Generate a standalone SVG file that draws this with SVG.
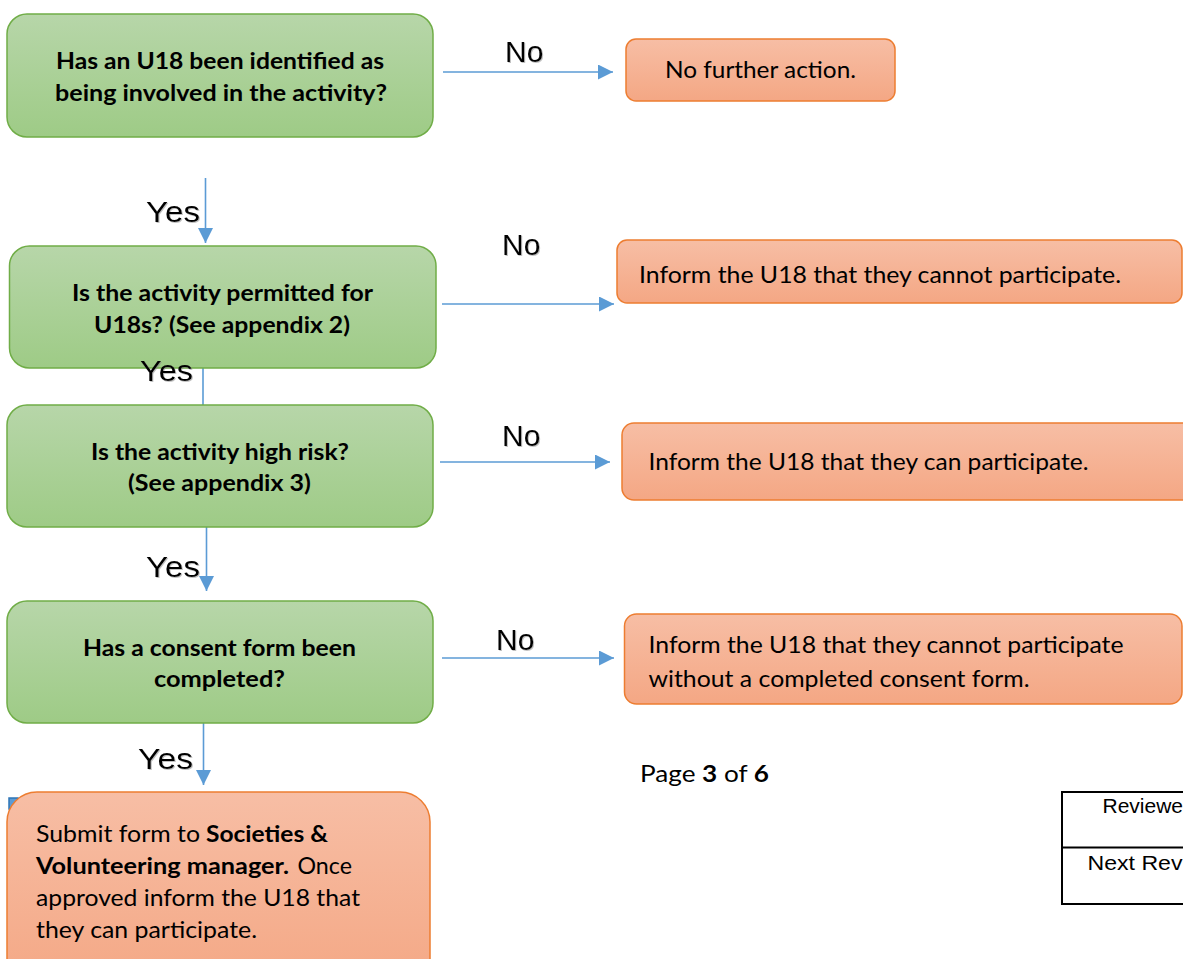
<svg xmlns="http://www.w3.org/2000/svg" width="1183" height="959" viewBox="0 0 1183 959">
<style>
.g{fill:url(#gg);stroke:#70ad47;stroke-width:1.5}
.o{fill:url(#og);stroke:#ed7d31;stroke-width:1.5}
.tb{font-family:Lato,"Liberation Sans",sans-serif;font-weight:bold;font-size:22px;fill:#000}
.tr{font-family:Lato,"Liberation Sans",sans-serif;font-size:23.3px;fill:#000}
.lb{font-family:"Liberation Sans",Arial,sans-serif;font-size:30px;fill:#000;filter:url(#sh)}
.c{stroke:#5b9bd5;stroke-width:1.6;fill:none}
.tt{font-family:"Liberation Sans",Arial,sans-serif;font-size:21px;fill:#000}
</style>
<defs>
<linearGradient id="gg" x1="0" y1="0" x2="0" y2="1"><stop offset="0" stop-color="#b7d6a9"/><stop offset="1" stop-color="#9ecb86"/></linearGradient>
<linearGradient id="og" x1="0" y1="0" x2="0" y2="1"><stop offset="0" stop-color="#f7bea5"/><stop offset="1" stop-color="#f4a784"/></linearGradient>
<marker id="ah" markerUnits="userSpaceOnUse" markerWidth="15" markerHeight="15" refX="15" refY="7.5" orient="auto"><path d="M0,0 L15,7.5 L0,15 Z" fill="#5b9bd5"/></marker>
<filter id="sh" x="-10%" y="-10%" width="130%" height="130%"><feDropShadow dx="1" dy="1" stdDeviation="0.6" flood-color="#808080" flood-opacity="0.5"/></filter>
</defs>
<rect x="9" y="798" width="9" height="11" fill="#5b9bd5" stroke="#2e75b6" stroke-width="1.5"/>
<g id="connectors">
<line class="c" x1="443" y1="72" x2="613" y2="72" marker-end="url(#ah)"/>
<line class="c" x1="442" y1="304" x2="614" y2="304" marker-end="url(#ah)"/>
<line class="c" x1="440" y1="462" x2="610" y2="462" marker-end="url(#ah)"/>
<line class="c" x1="442" y1="658" x2="614" y2="658" marker-end="url(#ah)"/>
<line class="c" x1="205.5" y1="178" x2="205.5" y2="243" marker-end="url(#ah)"/>
<line class="c" x1="203" y1="368" x2="203" y2="405"/>
<line class="c" x1="206.5" y1="527" x2="206.5" y2="591" marker-end="url(#ah)"/>
<line class="c" x1="203.5" y1="723" x2="203.5" y2="785" marker-end="url(#ah)"/>
</g>
<g id="q1">
<rect class="g" x="7" y="14" width="426" height="123" rx="20"/>
<text class="tb" x="56" y="69" textLength="328" lengthAdjust="spacingAndGlyphs">Has an U18 been identified as</text>
<text class="tb" x="55" y="100.5" textLength="332" lengthAdjust="spacingAndGlyphs">being involved in the activity?</text>
</g>
<g id="r1">
<rect class="o" x="626" y="39" width="269" height="62" rx="10"/>
<text class="tr" x="665" y="78" textLength="191" lengthAdjust="spacingAndGlyphs">No further action.</text>
</g>
<g id="q2">
<rect class="g" x="9.5" y="246" width="426.5" height="122" rx="20"/>
<text class="tb" x="72" y="301" textLength="301" lengthAdjust="spacingAndGlyphs">Is the activity permitted for</text>
<text class="tb" x="94" y="333" textLength="256" lengthAdjust="spacingAndGlyphs">U18s? (See appendix 2)</text>
</g>
<g id="r2">
<rect class="o" x="617" y="240" width="565" height="63" rx="10"/>
<text class="tr" x="639" y="283" textLength="482" lengthAdjust="spacingAndGlyphs">Inform the U18 that they cannot participate.</text>
</g>
<g id="q3">
<rect class="g" x="7" y="405" width="426" height="122" rx="20"/>
<text class="tb" x="91" y="460" textLength="258" lengthAdjust="spacingAndGlyphs">Is the activity high risk?</text>
<text class="tb" x="128" y="491" textLength="183" lengthAdjust="spacingAndGlyphs">(See appendix 3)</text>
</g>
<g id="r3">
<rect class="o" x="622" y="423" width="580" height="77" rx="12"/>
<text class="tr" x="648.5" y="470" textLength="440" lengthAdjust="spacingAndGlyphs">Inform the U18 that they can participate.</text>
</g>
<g id="q4">
<rect class="g" x="7" y="601" width="426" height="122" rx="20"/>
<text class="tb" x="83" y="656" textLength="273" lengthAdjust="spacingAndGlyphs">Has a consent form been</text>
<text class="tb" x="154" y="687" textLength="131" lengthAdjust="spacingAndGlyphs">completed?</text>
</g>
<g id="r4">
<rect class="o" x="624.5" y="614" width="557.5" height="90" rx="12"/>
<text class="tr" x="648.5" y="653" textLength="475" lengthAdjust="spacingAndGlyphs">Inform the U18 that they cannot participate</text>
<text class="tr" x="648.5" y="687" textLength="381" lengthAdjust="spacingAndGlyphs">without a completed consent form.</text>
</g>
<g id="r5">
<rect class="o" x="7" y="792" width="423" height="200" rx="30"/>
<text class="tr" x="36" y="842" textLength="164" lengthAdjust="spacingAndGlyphs">Submit form to</text>
<text class="tb" x="206" y="842" style="font-size:23.3px" textLength="122" lengthAdjust="spacingAndGlyphs">Societies &amp;</text>
<text class="tb" x="36" y="874" style="font-size:23.3px" textLength="253" lengthAdjust="spacingAndGlyphs">Volunteering manager.</text>
<text class="tr" x="297.5" y="874" textLength="54.5" lengthAdjust="spacingAndGlyphs">Once</text>
<text class="tr" x="36" y="906" textLength="324" lengthAdjust="spacingAndGlyphs">approved inform the U18 that</text>
<text class="tr" x="36" y="938" textLength="221" lengthAdjust="spacingAndGlyphs">they can participate.</text>
</g>
<g id="labels">
<text class="lb" x="505" y="62">No</text>
<text class="lb" x="502" y="255">No</text>
<text class="lb" x="502" y="446">No</text>
<text class="lb" x="496" y="650">No</text>
<text class="lb" x="146" y="222" textLength="54" lengthAdjust="spacingAndGlyphs">Yes</text>
<text class="lb" x="140" y="381" textLength="53" lengthAdjust="spacingAndGlyphs">Yes</text>
<text class="lb" x="146" y="577" textLength="54" lengthAdjust="spacingAndGlyphs">Yes</text>
<text class="lb" x="138" y="769" textLength="55" lengthAdjust="spacingAndGlyphs">Yes</text>
</g>
<g id="page">
<text class="tr" x="640" y="782" textLength="129" lengthAdjust="spacingAndGlyphs">Page <tspan font-weight="bold">3</tspan> of <tspan font-weight="bold">6</tspan></text>
</g>
<g id="table">
<rect x="1062" y="792" width="200" height="112" fill="none" stroke="#000" stroke-width="2"/>
<line x1="1062" y1="847.5" x2="1190" y2="847.5" stroke="#000" stroke-width="2"/>
<text class="tt" x="1102.5" y="813">Reviewe</text>
<text class="tt" x="1087.5" y="870" textLength="95" lengthAdjust="spacingAndGlyphs">Next Rev</text>
</g>
</svg>
